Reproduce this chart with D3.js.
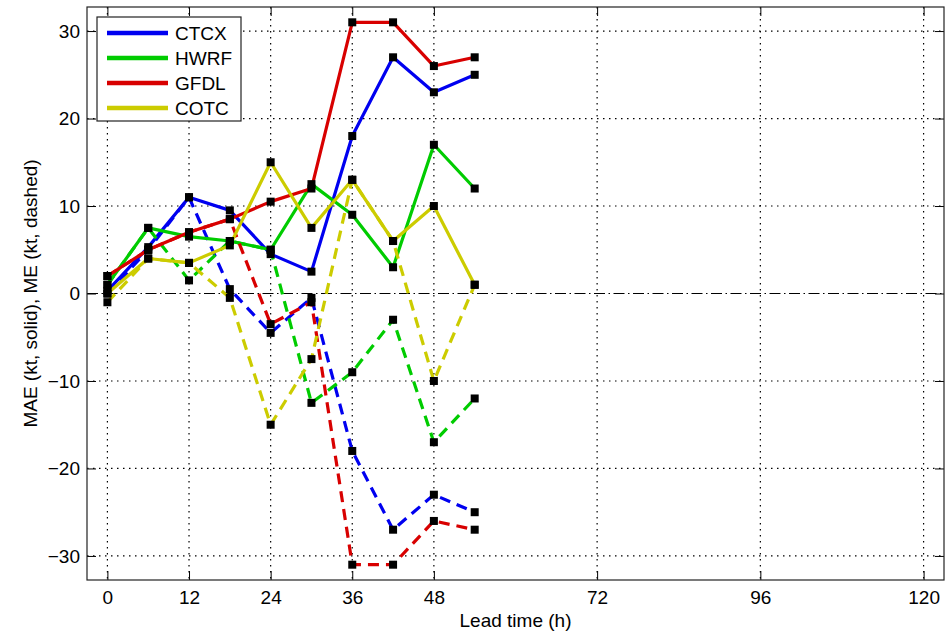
<!DOCTYPE html>
<html>
<head>
<meta charset="utf-8">
<script src="https://cdn.jsdelivr.net/npm/d3@7"></script>
<style>
  html, body { margin: 0; padding: 0; background: #fff; }
  svg { display: block; }
  text { font-family: "Liberation Sans", Arial, Helvetica, sans-serif; fill: #000; }
</style>
</head>
<body>
<svg id="chart" width="949" height="633"></svg>
<script>
// ---- data ----
const leadTimes = [0, 6, 12, 18, 24, 30, 36, 42, 48, 54];
const seriesNames = ["CTCX", "HWRF", "GFDL", "COTC"];
const maeCTCX = [0.3, 5.3, 11, 9.5, 4.5, 2.5, 18, 27, 23, 25];
const meCTCX  = [0, 5, 11, 0.5, -4.5, -0.5, -18, -27, -23, -25];
const maeHWRF = [1, 7.5, 6.5, 6, 5, 12.5, 9, 3, 17, 12];
const meHWRF  = [1, 7.5, 1.5, 6, 5, -12.5, -9, -3, -17, -12];
const maeGFDL = [2, 5, 7, 8.5, 10.5, 12, 31, 31, 26, 27];
const meGFDL  = [2, 5, 7, 8.5, -3.5, -1, -31, -31, -26, -27];
const maeCOTC = [0, 4, 3.5, 5.5, 15, 7.5, 13, 6, 10, 1];
const meCOTC  = [-1, 4, 3.5, -0.5, -15, -7.5, 13, 6, -10, 1];
const xTicks = [0, 12, 24, 36, 48, 72, 96, 120];
const yTicks = [-30, -20, -10, 0, 10, 20, 30];
const xLabel = "Lead time (h)";
const yLabel = "MAE (kt, solid), ME (kt, dashed)";

const colors = { CTCX: "#0000f0", HWRF: "#00cc00", GFDL: "#d80000", COTC: "#cccc00" };
const series = [
  { name: "CTCX", mae: maeCTCX, me: meCTCX },
  { name: "HWRF", mae: maeHWRF, me: meHWRF },
  { name: "GFDL", mae: maeGFDL, me: meGFDL },
  { name: "COTC", mae: maeCOTC, me: meCOTC }
];

// ---- layout ----
const L = 87, R = 944, T = 7, B = 580;
const svg = d3.select("#chart");
const x = d3.scaleLinear().domain([-3, 123]).range([L, R]);
const y = d3.scaleLinear().domain([-32.75, 32.75]).range([B, T]);

// grid
const grid = svg.append("g");
grid.selectAll("line.gx").data(xTicks).join("line")
  .attr("x1", d => x(d)).attr("x2", d => x(d)).attr("y1", T).attr("y2", B)
  .attr("stroke", "#000").attr("stroke-width", 1.2).attr("stroke-dasharray", "1.5,4.5");
grid.selectAll("line.gy").data(yTicks.filter(d => d !== 0)).join("line")
  .attr("x1", L).attr("x2", R).attr("y1", d => y(d)).attr("y2", d => y(d))
  .attr("stroke", "#000").attr("stroke-width", 1.2).attr("stroke-dasharray", "1.5,4.5");
// zero dash-dot line
svg.append("line").attr("x1", L).attr("x2", R).attr("y1", y(0)).attr("y2", y(0))
  .attr("stroke", "#000").attr("stroke-width", 1.2).attr("stroke-dasharray", "11,3.5,1.5,3.5");

// axes (inside ticks)
const tl = 9;
const axB = d3.axisBottom(x).tickValues(xTicks).tickSize(-tl).tickPadding(11).tickFormat(d3.format("d"));
const axT = d3.axisTop(x).tickValues(xTicks).tickSize(-tl).tickFormat("");
const axL = d3.axisLeft(y).tickValues(yTicks).tickSize(-tl).tickPadding(7).tickFormat(d => d < 0 ? "\u2212" + Math.abs(d) : String(d));
const axR = d3.axisRight(y).tickValues(yTicks).tickSize(-tl).tickFormat("");
function styleAxis(g) {
  g.select(".domain").remove();
  g.selectAll(".tick line").attr("stroke", "#000").attr("stroke-width", 1);
  g.selectAll(".tick text").style("font-size", "19px").attr("fill", "#000");
}
svg.append("g").attr("transform", `translate(0,${B})`).call(axB).call(styleAxis);
svg.append("g").attr("transform", `translate(0,${T})`).call(axT).call(styleAxis);
svg.append("g").attr("transform", `translate(${L},0)`).call(axL).call(styleAxis);
svg.append("g").attr("transform", `translate(${R},0)`).call(axR).call(styleAxis);
svg.selectAll(".tick text").attr("font-family", null);

// box
svg.append("rect").attr("x", L).attr("y", T).attr("width", R - L).attr("height", B - T)
  .attr("fill", "none").attr("stroke", "#222").attr("stroke-width", 1.2);

// lines
const line = d3.line().x((d, i) => x(leadTimes[i])).y(d => y(d));
const lg = svg.append("g");
series.forEach(s => {
  lg.append("path").attr("d", line(s.mae)).attr("fill", "none")
    .attr("stroke", colors[s.name]).attr("stroke-width", 3.2).attr("stroke-linejoin", "round");
  lg.append("path").attr("d", line(s.me)).attr("fill", "none")
    .attr("stroke", colors[s.name]).attr("stroke-width", 3.2).attr("stroke-dasharray", "11,7");
});
// markers
const ms = 8;
const mg = svg.append("g");
series.forEach(s => {
  [s.mae, s.me].forEach(arr => {
    mg.selectAll(null).data(arr).join("rect")
      .attr("x", (d, i) => x(leadTimes[i]) - ms / 2).attr("y", d => y(d) - ms / 2)
      .attr("width", ms).attr("height", ms).attr("fill", "#000");
  });
});

// axis labels
svg.append("text").attr("x", (L + R) / 2).attr("y", 627).attr("text-anchor", "middle")
  .style("font-size", "19px").text(xLabel);
svg.append("text").attr("transform", `translate(37,${(T + B) / 2}) rotate(-90)`).attr("text-anchor", "middle")
  .style("font-size", "19px").text(yLabel);

// legend
const lgX = 97, lgY = 17, lgW = 144, lgH = 104;
const leg = svg.append("g");
leg.append("rect").attr("x", lgX).attr("y", lgY).attr("width", lgW).attr("height", lgH)
  .attr("fill", "#fff").attr("stroke", "#222").attr("stroke-width", 1.2);
seriesNames.forEach((n, i) => {
  const yy = 33 + i * 25;
  leg.append("line").attr("x1", 107).attr("x2", 168).attr("y1", yy).attr("y2", yy)
    .attr("stroke", colors[n]).attr("stroke-width", 4.5);
  leg.append("text").attr("x", 175).attr("y", yy).attr("dy", "0.36em")
    .style("font-size", "19px").text(n);
});
</script>
</body>
</html>
